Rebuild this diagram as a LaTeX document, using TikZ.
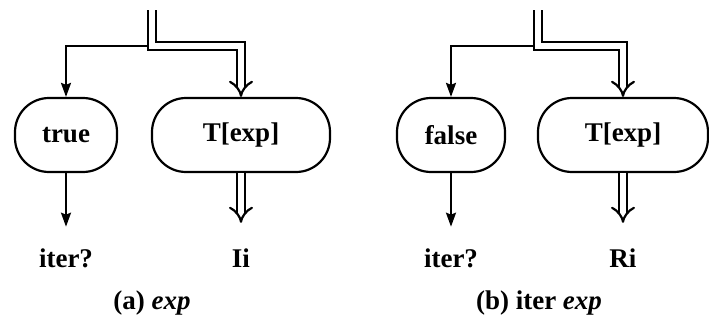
\documentclass[tikz,border=0pt]{standalone}
\usepackage{fontspec}
\setmainfont{Liberation Serif}
\usepackage{tikz}
\usetikzlibrary{arrows.meta}

\begin{document}
\begin{tikzpicture}[x=0.5pt,y=-0.5pt,node distance=61.5pt,
				line width=1.1pt,main node/.style={draw,rounded corners=17pt,
					minimum height=37pt,inner sep=2pt,
					font=\bfseries\fontsize{13.5}{16}\selectfont},
				label node/.style={font=\bfseries\fontsize{13.5}{16}\selectfont},
				single/.style={-{Stealth[length=7pt,width=5pt,inset=1pt]}},
				dbl/.style={double,double distance=3pt,-{Implies}}]
				\useasboundingbox (0,0) rectangle (709,327);
				
				% (a) exp
				\node[main node,minimum width=51pt] (true) at (66,135) {true};
				\node[main node,minimum width=89pt] (Ta) at (241,135) {T[exp]};
				\node[label node] (itera) [below of=true] {iter?};
				\node[label node] (Ii) [below of=Ta] {Ii};
				\node[label node] (capa) at (152,303) {(a) \textit{exp}};
				\coordinate (topa) at (152,10);
				\coordinate (splita) at (152,46);
				\draw[single] (splita) -| (true);
				\draw[dbl] (topa) -- (splita) -| (Ta);
				\draw[single,shorten >=7pt] (true) -- (itera);
				\draw[dbl,shorten >=9pt] (Ta) -- (Ii);
				
				% (b) iter exp
				\node[main node,minimum width=54pt] (false) at (451,135) {false};
				\node[main node,minimum width=85pt] (Tb) at (623,135) {T[exp]};
				\node[label node] (iterb) [below of=false] {iter?};
				\node[label node] (Ri) [below of=Tb] {Ri};
				\node[label node] (capb) at (539,303) {(b) iter \textit{exp}};
				\coordinate (topb) at (538,10);
				\coordinate (splitb) at (538,46);
				\draw[single] (splitb) -| (false);
				\draw[dbl] (topb) -- (splitb) -| (Tb);
				\draw[single,shorten >=7pt] (false) -- (iterb);
				\draw[dbl,shorten >=9pt] (Tb) -- (Ri);
			\end{tikzpicture}
\end{document}
